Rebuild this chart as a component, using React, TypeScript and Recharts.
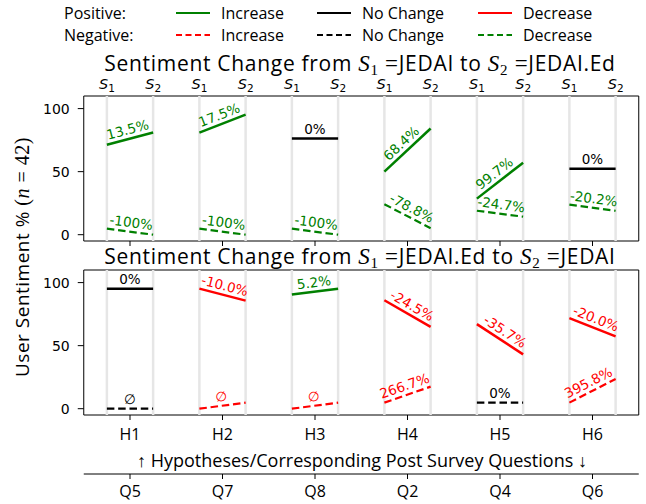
import React from 'react';
import { ComposedChart, Line, XAxis, YAxis, ReferenceLine, ReferenceArea } from 'recharts';

const hypotheses = ['H1', 'H2', 'H3', 'H4', 'H5', 'H6'];
const questions = ['Q5', 'Q7', 'Q8', 'Q2', 'Q4', 'Q6'];
const stageSubs = ['1', '2'];
const yTicks = [0, 50, 100];

// Panel 1: S1 = JEDAI -> S2 = JEDAI.Ed
const p1PosS1 = [71.4, 81.0, 76.2, 50.0, 28.6, 52.4];
const p1PosS2 = [81.0, 95.2, 76.2, 84.2, 57.1, 52.4];
const p1PosLabels = ['13.5%', '17.5%', '0%', '68.4%', '99.7%', '0%'];
const p1NegS1 = [4.8, 4.8, 4.8, 24.2, 19.0, 23.8];
const p1NegS2 = [0, 0, 0, 5.1, 14.3, 19.0];
const p1NegLabels = ['-100%', '-100%', '-100%', '-78.8%', '-24.7%', '-20.2%'];

// Panel 2: S1 = JEDAI.Ed -> S2 = JEDAI
const p2PosS1 = [95.2, 95.2, 90.5, 86.0, 67.1, 71.8];
const p2PosS2 = [95.2, 85.7, 95.2, 64.9, 43.1, 57.4];
const p2PosLabels = ['0%', '-10.0%', '5.2%', '-24.5%', '-35.7%', '-20.0%'];
const p2NegS1 = [0, 0, 0, 4.8, 4.8, 4.8];
const p2NegS2 = [0, 4.8, 4.8, 17.5, 4.8, 23.6];
const p2NegLabels = ['\u2205', '\u2205', '\u2205', '266.7%', '0%', '395.8%'];

const GREEN = '#008000';
const RED = '#ff0000';
const BLACK = '#000000';
const GRID = '#e6e6e6';
const SANS = '"Open Sans", sans-serif';
const DEJAVU = '"DejaVu Sans", sans-serif';
const SERIF = '"Liberation Serif", serif';

const X_DOMAIN: [number, number] = [-0.5, 5.5];
const Y_DOMAIN: [number, number] = [-5, 110];
const PLOT_W = 555;
const PLOT_H = 145;

function colorFor(polarity: 'pos' | 'neg', a: number, b: number) {
  const d = b - a;
  if (Math.abs(d) < 1e-9) return BLACK;
  const inc = d > 0;
  if (polarity === 'pos') return inc ? GREEN : RED;
  return inc ? RED : GREEN;
}

function labelDot(label: string, color: string, a: number, b: number) {
  return (p: any) => {
    if (p.index !== 0) return <g key={`d-${p.index}`} />;
    const x1 = p.cx;
    const y1 = p.cy;
    let x2: number;
    let y2: number;
    if (p.points && p.points.length > 1 && p.points[1].x != null) {
      x2 = p.points[1].x;
      y2 = p.points[1].y;
    } else {
      x2 = x1 + (0.5 * PLOT_W) / (X_DOMAIN[1] - X_DOMAIN[0]);
      y2 = y1 - ((b - a) * PLOT_H) / (Y_DOMAIN[1] - Y_DOMAIN[0]);
    }
    const mx = (x1 + x2) / 2;
    const my = (y1 + y2) / 2;
    const ang = (Math.atan2(y2 - y1, x2 - x1) * 180) / Math.PI;
    return (
      <text
        key="lbl"
        x={mx}
        y={my}
        dy={-4.5}
        transform={`rotate(${ang} ${mx} ${my})`}
        textAnchor="middle"
        fill={color}
        fontFamily={DEJAVU}
        fontSize={13.5}
      >
        {label}
      </text>
    );
  };
}

function buildSeries(
  prefix: string,
  posS1: number[],
  posS2: number[],
  posLabels: string[],
  negS1: number[],
  negS2: number[],
  negLabels: string[],
  xId: string
) {
  const out: any[] = [];
  hypotheses.forEach((h, i) => {
    const negColor = colorFor('neg', negS1[i], negS2[i]);
    out.push(
      <Line
        key={`${prefix}-neg-${h}`}
        xAxisId={xId}
        data={[
          { x: i - 0.25, y: negS1[i] },
          { x: i + 0.25, y: negS2[i] },
        ]}
        dataKey="y"
        type="linear"
        stroke={negColor}
        strokeWidth={2.2}
        strokeDasharray="7.5 3.8"
        dot={labelDot(negLabels[i], negColor, negS1[i], negS2[i])}
        activeDot={false}
        isAnimationActive={false}
        legendType="none"
      />
    );
    const posColor = colorFor('pos', posS1[i], posS2[i]);
    out.push(
      <Line
        key={`${prefix}-pos-${h}`}
        xAxisId={xId}
        data={[
          { x: i - 0.25, y: posS1[i] },
          { x: i + 0.25, y: posS2[i] },
        ]}
        dataKey="y"
        type="linear"
        stroke={posColor}
        strokeWidth={2.5}
        dot={labelDot(posLabels[i], posColor, posS1[i], posS2[i])}
        activeDot={false}
        isAnimationActive={false}
        legendType="none"
      />
    );
  });
  return out;
}

const stageTicks = hypotheses.flatMap((_, i) => [i - 0.25, i + 0.25]);
const groupTicks = hypotheses.map((_, i) => i);

const StageTick = (p: any) => {
  const idx = stageTicks.indexOf(p.payload.value);
  const sub = stageSubs[idx % 2];
  return (
    <text x={p.x} y={p.y} dy={-6} textAnchor="middle" fontFamily={DEJAVU} fontSize={14.5} fill="#000">
      <tspan fontStyle="italic">S</tspan>
      <tspan fontSize={10.5} dy={3}>
        {sub}
      </tspan>
    </text>
  );
};

const EmptyTick = () => <g />;

const HTick = (p: any) => (
  <text x={p.x} y={p.y} dy={20} textAnchor="middle" fontFamily={SANS} fontSize={16} fill="#000">
    {hypotheses[p.payload.value]}
  </text>
);

const QTick = (p: any) => (
  <text x={p.x} y={p.y} dy={18} textAnchor="middle" fontFamily={SANS} fontSize={16} fill="#000">
    {questions[p.payload.value]}
  </text>
);

function commonRefs(xId: string) {
  return stageTicks.map((v) => (
    <ReferenceLine key={`g-${v}`} xAxisId={xId} x={v} stroke={GRID} strokeWidth={2.5} />
  ));
}

function Title({ y, a, b }: { y: number; a: string; b: string }) {
  return (
    <text x={360} y={y} textAnchor="middle" fontFamily={SANS} fontSize={21} letterSpacing={0.7} fill="#000">
      {'Sentiment Change from '}
      <tspan fontFamily={SERIF} fontStyle="italic" fontSize={23}>S</tspan>
      <tspan fontFamily={SERIF} fontSize={15} dy={4}>1</tspan>
      <tspan dy={-4} fontFamily={SERIF} fontSize={23}>{' ='}</tspan>
      <tspan>{a + ' to '}</tspan>
      <tspan fontFamily={SERIF} fontStyle="italic" fontSize={23}>S</tspan>
      <tspan fontFamily={SERIF} fontSize={15} dy={4}>2</tspan>
      <tspan dy={-4} fontFamily={SERIF} fontSize={23}>{' ='}</tspan>
      <tspan>{b}</tspan>
    </text>
  );
}

const legendRows = [
  { name: 'Positive:', dash: undefined as string | undefined, colors: [GREEN, BLACK, RED] },
  { name: 'Negative:', dash: '6 3.5', colors: [RED, BLACK, GREEN] },
];
const legendItems = ['Increase', 'No Change', 'Decrease'];
const legendX = [176, 317, 478];

export default function App() {
  return (
    <div style={{ position: 'absolute', left: 0, top: 0, width: 646, height: 504, background: '#fff' }}>
      <div style={{ position: 'absolute', left: 0, top: 0 }}>
        <ComposedChart width={646} height={260} margin={{ top: 76, right: 7.25, bottom: 9, left: 43.75 }}>
          <XAxis
            xAxisId="t"
            orientation="top"
            type="number"
            dataKey="x"
            domain={X_DOMAIN}
            ticks={stageTicks}
            allowDataOverflow
            height={20}
            axisLine={false}
            tickLine={false}
            tickSize={1}
            tickMargin={0}
            tick={StageTick}
            interval={0}
          />
          <XAxis
            xAxisId="b"
            type="number"
            dataKey="x"
            domain={X_DOMAIN}
            ticks={groupTicks}
            allowDataOverflow
            height={10}
            axisLine={false}
            tickLine={{ stroke: '#000' }}
            tickSize={5}
            tick={EmptyTick}
            interval={0}
          />
          <YAxis
            type="number"
            domain={Y_DOMAIN}
            ticks={yTicks}
            allowDataOverflow
            width={40}
            axisLine={false}
            tickLine={{ stroke: '#000' }}
            tickSize={6}
            tickMargin={8}
            tick={{ fontFamily: DEJAVU, fontSize: 14, fill: '#000' }}
            interval={0}
          />
          {commonRefs('b')}
          <ReferenceArea xAxisId="b" x1={-0.5} x2={5.5} y1={-5} y2={110} fill="none" stroke="#000" strokeWidth={1} ifOverflow="visible" />
          {buildSeries('p1', p1PosS1, p1PosS2, p1PosLabels, p1NegS1, p1NegS2, p1NegLabels, 'b')}
        </ComposedChart>
      </div>
      <div style={{ position: 'absolute', left: 0, top: 240 }}>
        <ComposedChart width={646} height={264} margin={{ top: 30, right: 7.25, bottom: 0, left: 43.75 }}>
          <XAxis
            xAxisId="h"
            type="number"
            dataKey="x"
            domain={X_DOMAIN}
            ticks={groupTicks}
            allowDataOverflow
            height={59}
            axisLine={false}
            tickLine={{ stroke: '#000' }}
            tickSize={5}
            tickMargin={0}
            tick={HTick}
            interval={0}
          />
          <XAxis
            xAxisId="q"
            type="number"
            dataKey="x"
            domain={X_DOMAIN}
            ticks={groupTicks}
            allowDataOverflow
            height={30}
            axisLine={{ stroke: '#000' }}
            tickLine={{ stroke: '#000' }}
            tickSize={5}
            tickMargin={0}
            tick={QTick}
            interval={0}
          />
          <YAxis
            type="number"
            domain={Y_DOMAIN}
            ticks={yTicks}
            allowDataOverflow
            width={40}
            axisLine={false}
            tickLine={{ stroke: '#000' }}
            tickSize={6}
            tickMargin={8}
            tick={{ fontFamily: DEJAVU, fontSize: 14, fill: '#000' }}
            interval={0}
          />
          {commonRefs('h')}
          <ReferenceArea xAxisId="h" x1={-0.5} x2={5.5} y1={-5} y2={110} fill="none" stroke="#000" strokeWidth={1} ifOverflow="visible" />
          {buildSeries('p2', p2PosS1, p2PosS2, p2PosLabels, p2NegS1, p2NegS2, p2NegLabels, 'h')}
        </ComposedChart>
      </div>
      <svg width={646} height={504} style={{ position: 'absolute', left: 0, top: 0, pointerEvents: 'none' }}>
        {legendRows.map((row, r) => {
          const y = r === 0 ? 13 : 35;
          return (
            <g key={row.name}>
              <text x={64} y={y} dominantBaseline="central" fontFamily={SANS} fontSize={16} fill="#000">
                {row.name}
              </text>
              {legendItems.map((it, k) => (
                <g key={it}>
                  <line
                    x1={legendX[k]}
                    x2={legendX[k] + 34}
                    y1={y}
                    y2={y}
                    stroke={row.colors[k]}
                    strokeWidth={2}
                    strokeDasharray={row.dash}
                  />
                  <text x={legendX[k] + 45} y={y} dominantBaseline="central" fontFamily={SANS} fontSize={16} fill="#000">
                    {it}
                  </text>
                </g>
              ))}
            </g>
          );
        })}
        <Title y={71} a="JEDAI" b="JEDAI.Ed" />
        <Title y={264} a="JEDAI.Ed" b="JEDAI" />
        <text
          x={22}
          y={257}
          transform="rotate(-90 22 257)"
          textAnchor="middle"
          dominantBaseline="central"
          fontFamily={SANS}
          fontSize={19}
          letterSpacing={0.5}
          fill="#000"
        >
          {'User Sentiment % '}
          <tspan fontFamily={SERIF} fontSize={20}>(</tspan>
          <tspan fontFamily={SERIF} fontSize={20} fontStyle="italic">n</tspan>
          <tspan fontFamily={SERIF} fontSize={20}>{' = 42)'}</tspan>
        </text>
        <text x={362} y={467} textAnchor="middle" fontFamily={SANS} fontSize={18} fill="#000">
          {'\u2191 Hypotheses/Corresponding Post Survey Questions \u2193'}
        </text>
      </svg>
    </div>
  );
}
